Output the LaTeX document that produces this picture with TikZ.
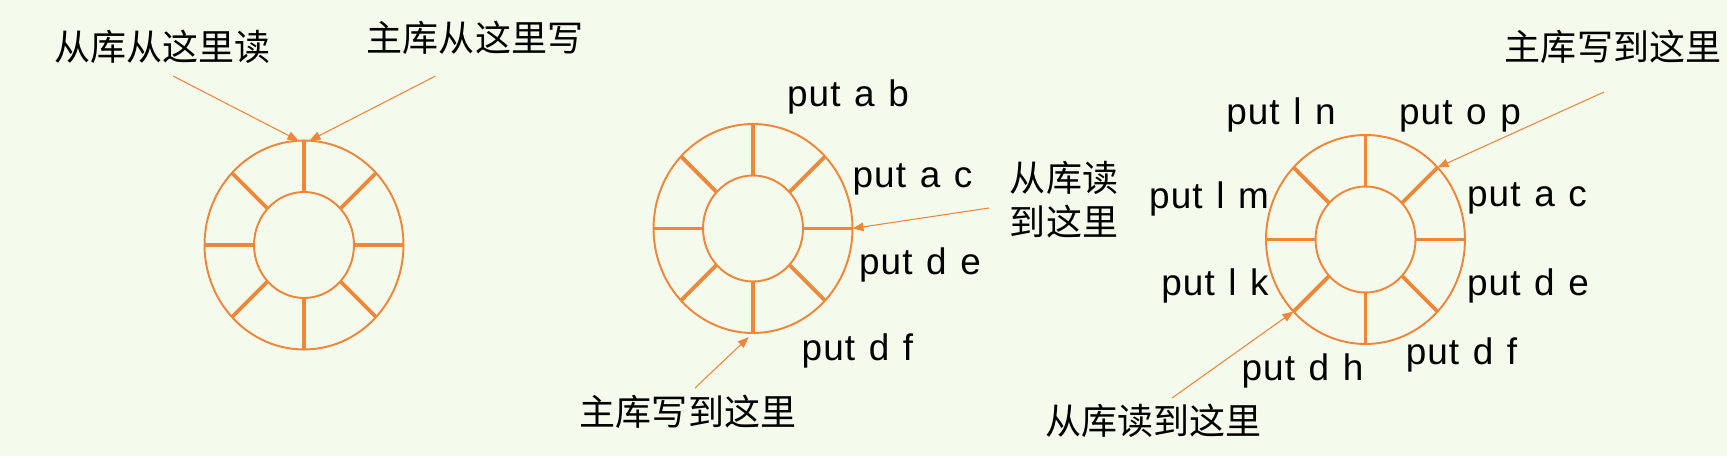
\documentclass[tikz,border=0pt]{standalone}
\usepackage{fontspec}
\setmainfont{Liberation Sans}[LetterSpace=3, WordSpace=1.2]
\newfontfamily\cjk{Noto Sans CJK SC}
\usetikzlibrary{shapes.geometric, arrows.meta, positioning}
\definecolor{ringorange}{RGB}{239,134,56}
\definecolor{paper}{RGB}{244,250,236}

\begin{document}
\begin{tikzpicture}[
    x=0.02cm, y=-0.02cm,
    ring/.style={ellipse, draw=ringorange, line width=1.1pt, inner sep=0pt, outer sep=0pt,
                 minimum width=3.98cm, minimum height=4.18cm},
    hub/.style={ring, minimum width=2.0cm, minimum height=2.12cm},
    spoke/.style={ringorange, line width=2.2pt},
    arr/.style={-{Triangle[length=0.22cm, width=0.17cm]}, ringorange, line width=0.6pt},
    cmd/.style={inner sep=0pt, anchor=base, font=\fontsize{21}{25}\selectfont},
    note/.style={inner sep=0pt, align=center, font=\cjk\fontsize{20.5}{25}\selectfont},
]
    \useasboundingbox (0,0) rectangle (1727,462);
    \fill[paper] (0,0) rectangle (1727,456);
    \fill[white] (0,456) rectangle (1727,462);

    % three ring buffers
    \foreach \n/\cx/\cy in {r1/304/245, r2/753/228.5, r3/1365.5/239.5} {
        \node[ring] (\n) at (\cx,\cy) {};
        \node[hub]  (\n-hub) at (\cx,\cy) {};
        \foreach \a in {0,45,...,315}
            \draw[spoke] (\n-hub.\a) -- (\n.\a);
    }

    % first ring
    \node[note] (slave1)  at (162.5,46.5) {从库从这里读};
    \node[note] (master1) at (475,37.5)   {主库从这里写};
    \coordinate (slave1-end)  at (173,76);
    \coordinate (master1-end) at (435.5,76);
    \draw[arr] (slave1-end)  -- (r1.93);
    \draw[arr] (master1-end) -- (r1.87);

    % second ring
    \node[cmd] (ab2) at (848,106.7)  {put a b};
    \node[cmd] (ac2) at (912.5,187.7) {put a c};
    \node[cmd] (de2) at (920,275)    {put d e};
    \node[cmd] (df2) at (857.5,360)  {put d f};
    \node[note] (slave2)  at (1064,200) {从库读\\到这里};
    \node[note] (master2) at (688,412)  {主库写到这里};
    \coordinate (slave2-end)  at (989,208);
    \coordinate (master2-end) at (695,388);
    \draw[arr] (slave2-end) -- (r2.east);
    \draw[arr, shorten >=0.12cm] (master2-end) -- (r2.south);

    % third ring
    \node[cmd] (ln3) at (1281,125)   {put l n};
    \node[cmd] (op3) at (1460,125)   {put o p};
    \node[cmd] (lm3) at (1209,209)   {put l m};
    \node[cmd] (ac3) at (1527,207)   {put a c};
    \node[cmd] (lk3) at (1215,296)   {put l k};
    \node[cmd] (de3) at (1528,296)   {put d e};
    \node[cmd] (dh3) at (1302.5,380) {put d h};
    \node[cmd] (df3) at (1461.5,364) {put d f};
    \node[note] (master3) at (1613,46.7)  {主库写到这里};
    \node[note] (slave3)  at (1153.5,421) {从库读到这里};
    \coordinate (master3-end) at (1604,92);
    \coordinate (slave3-end)  at (1172,398);
    \draw[arr] (master3-end) -- (r3.45);
    \draw[arr] (slave3-end)  -- (r3.225);
\end{tikzpicture}
\end{document}
